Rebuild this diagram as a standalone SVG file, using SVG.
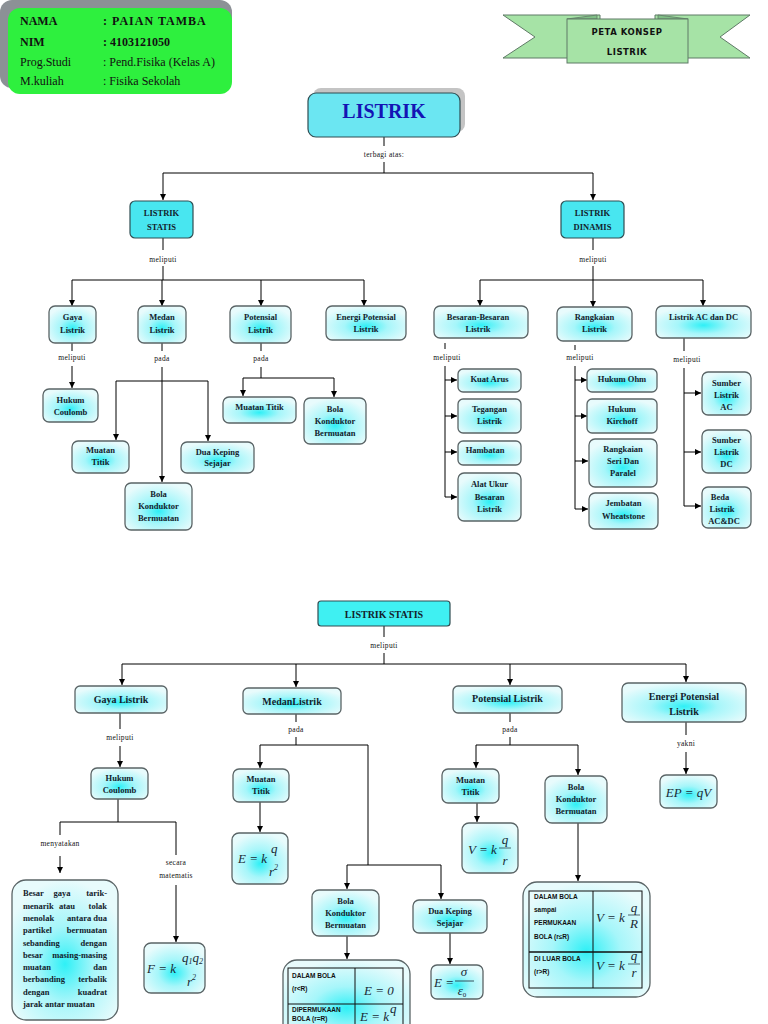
<svg xmlns="http://www.w3.org/2000/svg" width="768" height="1024" viewBox="0 0 768 1024">
<defs>
<radialGradient id="g" cx="50%" cy="60%" r="60%">
<stop offset="0" stop-color="#2ff0f6"/>
<stop offset="0.45" stop-color="#a6f6fa"/>
<stop offset="1" stop-color="#e8fbfc"/>
</radialGradient>
<marker id="a" markerWidth="6" markerHeight="6" refX="6" refY="3" orient="auto" markerUnits="userSpaceOnUse">
<path d="M0,0 L6,3 L0,6 z" fill="#000"/>
</marker>
<style>
.n{fill:url(#g);stroke:#5a6466;stroke-width:1.3}
.s{fill:#48e6f0;stroke:#2f4d52;stroke-width:1.2}
.t{font-family:"Liberation Serif",serif;font-weight:bold;font-size:8.5px;fill:#13222c;text-anchor:middle}
.T{font-family:"Liberation Serif",serif;font-weight:bold;font-size:10px;fill:#13222c;text-anchor:middle}
.l{font-family:"Liberation Serif",serif;font-size:7.5px;fill:#111;text-anchor:middle;letter-spacing:0.3px}
.c{stroke:#000;stroke-width:1;fill:none}
.ca{stroke:#000;stroke-width:1;fill:none;marker-end:url(#a)}
.h{font-family:"Liberation Serif",serif;font-size:12px;fill:#111}
.f{font-family:"Liberation Serif",serif;font-style:italic;font-size:13px;fill:#1a2a35}
.tb{font-family:"Liberation Sans",sans-serif;font-weight:bold;font-size:6.5px;fill:#111}
.d{font-family:"Liberation Serif",serif;font-weight:bold;font-size:8.5px;fill:#13222c}
</style>
</defs>
<rect width="768" height="1024" fill="#fff"/>

<g id="header">
<rect x="0" y="0" width="232" height="88" rx="12" fill="#8c9196"/>
<rect x="8" y="8" width="224" height="86" rx="12" fill="#2ef03e"/>
<text class="h" x="20" y="25" font-weight="bold">NAMA</text>
<text class="h" x="103" y="25" font-weight="bold" letter-spacing="1">: PAIAN TAMBA</text>
<text class="h" x="20" y="46" font-weight="bold">NIM</text>
<text class="h" x="103" y="46" font-weight="bold">:  4103121050</text>
<text class="h" x="20" y="66">Prog.Studi</text>
<text class="h" x="103" y="66">: Pend.Fisika (Kelas A)</text>
<text class="h" x="20" y="85">M.kuliah</text>
<text class="h" x="103" y="85">: Fisika Sekolah</text>
</g>

<g id="banner">
<polygon points="503,15 600,15 600,58 503,58 535,37" fill="#a6e3a6" stroke="#5f7a66" stroke-width="1"/>
<polygon points="655,15 750,15 720,37 750,58 655,58" fill="#a6e3a6" stroke="#5f7a66" stroke-width="1"/>
<polygon points="567,19 597,15 597,19" fill="#7fbf85" stroke="#5f7a66" stroke-width="0.8"/>
<polygon points="688,19 658,15 658,19" fill="#7fbf85" stroke="#5f7a66" stroke-width="0.8"/>
<rect x="567" y="19" width="121" height="44" fill="#a6e3a6" stroke="#5f7a66" stroke-width="1"/>
<text x="627" y="35" font-family="DejaVu Sans, sans-serif" font-weight="bold" font-size="8.5" text-anchor="middle" letter-spacing="0.5" fill="#111">PETA KONSEP</text>
<text x="627" y="55" font-family="DejaVu Sans, sans-serif" font-weight="bold" font-size="8.5" text-anchor="middle" letter-spacing="0.5" fill="#111">LISTRIK</text>
</g>

<g id="connectors">
<path class="c" d="M384,137 V146 M384,162 V173 M163,173 H593"/>
<path class="ca" d="M163,173 V200"/>
<path class="ca" d="M593,173 V200"/>
<text class="l" x="384" y="157">terbagi atas:</text>

<path class="c" d="M163,238 V250 M163,266 V280 M72,280 H364"/>
<text class="l" x="163" y="262">meliputi</text>
<path class="ca" d="M72,280 V306"/>
<path class="ca" d="M162,280 V306"/>
<path class="ca" d="M261,280 V306"/>
<path class="ca" d="M364,280 V306"/>

<path class="c" d="M593,238 V250 M593,266 V280 M480,280 H703"/>
<text class="l" x="593" y="262">meliputi</text>
<path class="ca" d="M480,280 V306"/>
<path class="ca" d="M593,280 V307"/>
<path class="ca" d="M703,280 V306"/>

<path class="c" d="M72,343 V351"/>
<text class="l" x="72" y="360">meliputi</text>
<path class="ca" d="M72,366 V388"/>

<path class="c" d="M162,343 V351 M116,381 H208"/>
<text class="l" x="162" y="361">pada</text>
<path class="ca" d="M162,367 V482"/>
<path class="ca" d="M116,381 V440"/>
<path class="ca" d="M208,381 V441"/>

<path class="c" d="M261,343 V351 M261,367 V378 M243,378 H334"/>
<text class="l" x="261" y="361">pada</text>
<path class="ca" d="M243,378 V396"/>
<path class="ca" d="M334,378 V397"/>

<path class="c" d="M445,343 V349 M445,366 V497"/>
<text class="l" x="447" y="360">meliputi</text>
<path class="ca" d="M445,380 H457"/>
<path class="ca" d="M445,416 H457"/>
<path class="ca" d="M445,452 H457"/>
<path class="ca" d="M445,497 H457"/>

<path class="c" d="M575,345 V350 M575,366 V509"/>
<text class="l" x="580" y="360">meliputi</text>
<path class="ca" d="M575,380 H587"/>
<path class="ca" d="M575,416 H587"/>
<path class="ca" d="M575,461 H588"/>
<path class="ca" d="M575,509 H588"/>

<path class="c" d="M684,338 V351 M684,368 V506"/>
<text class="l" x="687" y="362">meliputi</text>
<path class="ca" d="M684,393 H701"/>
<path class="ca" d="M684,452 H701"/>
<path class="ca" d="M684,506 H701"/>

<path class="c" d="M384,626 V637 M384,653 V664 M122,664 H686"/>
<text class="l" x="384" y="648">meliputi</text>
<path class="ca" d="M122,664 V685"/>
<path class="ca" d="M296,664 V687"/>
<path class="ca" d="M510,664 V685"/>
<path class="ca" d="M686,664 V682"/>

<path class="c" d="M120,713 V729"/>
<text class="l" x="120" y="740">meliputi</text>
<path class="ca" d="M120,746 V767"/>

<path class="c" d="M296,714 V722 M296,737 V745 M260,745 H368 M368,745 V865 M347,865 H441"/>
<text class="l" x="296" y="732">pada</text>
<path class="ca" d="M260,745 V768"/>
<path class="ca" d="M347,865 V889"/>
<path class="ca" d="M441,865 V899"/>
<path class="ca" d="M260,802 V832"/>
<path class="ca" d="M347,936 V959"/>
<path class="ca" d="M450,933 V964"/>

<path class="c" d="M510,713 V722 M510,737 V745 M476,745 H578"/>
<text class="l" x="510" y="732">pada</text>
<path class="ca" d="M476,745 V768"/>
<path class="ca" d="M578,745 V775"/>
<path class="ca" d="M477,803 V822"/>
<path class="ca" d="M578,823 V881"/>

<path class="c" d="M686,722 V735"/>
<text class="l" x="686" y="746">yakni</text>
<path class="ca" d="M686,752 V774"/>

<path class="c" d="M118,798 V822 M60,822 H176 M60,822 V835 M176,822 V855"/>
<text class="l" x="60" y="846">menyatakan</text>
<path class="ca" d="M60,856 V873"/>
<text class="l" x="176" y="865">secara</text>
<text class="l" x="176" y="878">matematis</text>
<path class="ca" d="M176,885 V942"/>
</g>

<g id="n-listrik">
<rect x="313" y="88" width="152" height="44" rx="8" fill="#c4c4c4"/>
<rect x="308" y="93" width="152" height="44" rx="8" fill="#6be6f2" stroke="#2f4d52" stroke-width="1.2"/>
<text x="384" y="118" font-family="Liberation Serif, serif" font-weight="bold" font-size="20" fill="#1414b4" text-anchor="middle">LISTRIK</text>
</g>

<g id="n-statis"><rect class="s" x="130" y="201" width="63" height="37" rx="5"/><text class="t" x="161.5" y="216">LISTRIK</text><text class="t" x="161.5" y="230">STATIS</text></g>
<g id="n-dinamis"><rect class="s" x="561" y="201" width="63" height="37" rx="5"/><text class="t" x="592.5" y="216">LISTRIK</text><text class="t" x="592.5" y="230">DINAMIS</text></g>

<g id="n-gaya"><rect class="n" x="49" y="306" width="47" height="37" rx="6"/><text class="t" x="72.5" y="320">Gaya</text><text class="t" x="72.5" y="333">Listrik</text></g>
<g id="n-medan"><rect class="n" x="138" y="306" width="48" height="37" rx="6"/><text class="t" x="162" y="320">Medan</text><text class="t" x="162" y="333">Listrik</text></g>
<g id="n-potensial"><rect class="n" x="230" y="306" width="61" height="37" rx="6"/><text class="t" x="260.5" y="320">Potensial</text><text class="t" x="260.5" y="333">Listrik</text></g>
<g id="n-energi"><rect class="n" x="326" y="306" width="80" height="34" rx="6"/><text class="t" x="366" y="320">Energi Potensial</text><text class="t" x="366" y="332">Listrik</text></g>

<g id="n-hukum1"><rect class="n" x="43" y="389" width="55" height="33" rx="6"/><text class="t" x="70.5" y="403">Hukum</text><text class="t" x="70.5" y="415">Coulomb</text></g>
<g id="n-muatan1"><rect class="n" x="72" y="441" width="57" height="32" rx="6"/><text class="t" x="100.5" y="453">Muatan</text><text class="t" x="100.5" y="465">Titik</text></g>
<g id="n-dua1"><rect class="n" x="181" y="442" width="73" height="31" rx="6"/><text class="t" x="217.5" y="455">Dua Keping</text><text class="t" x="217.5" y="466">Sejajar</text></g>
<g id="n-bola1"><rect class="n" x="125" y="483" width="67" height="47" rx="6"/><text class="t" x="158.5" y="497">Bola</text><text class="t" x="158.5" y="509">Konduktor</text><text class="t" x="158.5" y="521">Bermuatan</text></g>
<g id="n-muatan2"><rect class="n" x="223" y="397" width="73" height="26" rx="6"/><text class="t" x="259.5" y="410">Muatan Titik</text></g>
<g id="n-bola2"><rect class="n" x="304" y="398" width="62" height="46" rx="6"/><text class="t" x="335" y="412">Bola</text><text class="t" x="335" y="424">Konduktor</text><text class="t" x="335" y="436">Bermuatan</text></g>

<g id="n-besaran"><rect class="n" x="434" y="306" width="94" height="32" rx="6"/><text class="t" x="478" y="320">Besaran-Besaran</text><text class="t" x="478" y="332">Listrik</text></g>
<g id="n-rangkaian"><rect class="n" x="557" y="307" width="75" height="34" rx="6"/><text class="t" x="594.5" y="320">Rangkaian</text><text class="t" x="594.5" y="332">Listrik</text></g>
<g id="n-acdc"><rect class="n" x="656" y="306" width="95" height="32" rx="6"/><text class="t" x="703.5" y="320">Listrik AC dan DC</text></g>

<g id="n-kuat"><rect class="n" x="458" y="369" width="63" height="23" rx="5"/><text class="t" x="489.5" y="382">Kuat Arus</text></g>
<g id="n-tegangan"><rect class="n" x="458" y="399" width="63" height="34" rx="5"/><text class="t" x="489.5" y="412">Tegangan</text><text class="t" x="489.5" y="424">Listrik</text></g>
<g id="n-hambatan"><rect class="n" x="458" y="441" width="63" height="24" rx="5"/><text class="t" x="485" y="453">Hambatan</text></g>
<g id="n-alat"><rect class="n" x="458" y="473" width="63" height="48" rx="6"/><text class="t" x="489.5" y="487">Alat Ukur</text><text class="t" x="489.5" y="500">Besaran</text><text class="t" x="489.5" y="512">Listrik</text></g>

<g id="n-ohm"><rect class="n" x="587" y="369" width="70" height="23" rx="5"/><text class="t" x="622" y="382">Hukum Ohm</text></g>
<g id="n-kirchoff"><rect class="n" x="587" y="399" width="70" height="34" rx="5"/><text class="t" x="622" y="412">Hukum</text><text class="t" x="622" y="424">Kirchoff</text></g>
<g id="n-seri"><rect class="n" x="589" y="439" width="68" height="48" rx="6"/><text class="t" x="623" y="452">Rangkaian</text><text class="t" x="623" y="464">Seri Dan</text><text class="t" x="623" y="476">Paralel</text></g>
<g id="n-jembatan"><rect class="n" x="589" y="493" width="69" height="36" rx="6"/><text class="t" x="623.5" y="506">Jembatan</text><text class="t" x="623.5" y="519">Wheatstone</text></g>

<g id="n-sac"><rect class="n" x="702" y="372" width="49" height="43" rx="6"/><text class="t" x="726.5" y="386">Sumber</text><text class="t" x="726.5" y="398">Listrik</text><text class="t" x="726.5" y="410">AC</text></g>
<g id="n-sdc"><rect class="n" x="702" y="430" width="49" height="43" rx="6"/><text class="t" x="726.5" y="443">Sumber</text><text class="t" x="726.5" y="455">Listrik</text><text class="t" x="726.5" y="467">DC</text></g>
<g id="n-beda"><rect class="n" x="702" y="487" width="49" height="41" rx="6"/><text class="t" x="720" y="500">Beda</text><text class="t" x="722" y="512">Listrik</text><text class="t" x="724" y="524">AC&amp;DC</text></g>

<g id="n-statis2"><rect x="318" y="601" width="132" height="25" rx="3" fill="#3ff0f2" stroke="#2f4d52" stroke-width="1.2"/><text class="T" x="384" y="618" font-size="13">LISTRIK STATIS</text></g>
<g id="n-gaya2"><rect class="n" x="75" y="686" width="92" height="27" rx="5"/><text class="T" x="121" y="703">Gaya Listrik</text></g>
<g id="n-medan2"><rect class="n" x="243" y="688" width="98" height="26" rx="5"/><text class="T" x="292" y="705">MedanListrik</text></g>
<g id="n-pot2"><rect class="n" x="453" y="686" width="109" height="27" rx="5"/><text class="T" x="507.5" y="702">Potensial Listrik</text></g>
<g id="n-energi2"><rect class="n" x="622" y="683" width="124" height="39" rx="6"/><text class="T" x="684" y="700">Energi Potensial</text><text class="T" x="684" y="715">Listrik</text></g>

<g id="n-hukum2"><rect class="n" x="91" y="768" width="57" height="31" rx="6"/><text class="t" x="119.5" y="781">Hukum</text><text class="t" x="119.5" y="793">Coulomb</text></g>
<g id="n-desc"><rect class="n" x="12" y="880" width="106" height="140" rx="14"/>
<text class="d" x="23" y="896">Besar</text><text class="d" x="62" y="896" text-anchor="middle">gaya</text><text class="d" x="107" y="896" text-anchor="end">tarik-</text>
<text class="d" x="23" y="909">menarik</text><text class="d" x="67" y="909" text-anchor="middle">atau</text><text class="d" x="107" y="909" text-anchor="end">tolak</text>
<text class="d" x="23" y="921">menolak</text><text class="d" x="107" y="921" text-anchor="end">antara dua</text>
<text class="d" x="23" y="933">partikel</text><text class="d" x="107" y="933" text-anchor="end">bermuatan</text>
<text class="d" x="23" y="946">sebanding</text><text class="d" x="107" y="946" text-anchor="end">dengan</text>
<text class="d" x="23" y="958">besar</text><text class="d" x="107" y="958" text-anchor="end">masing-masing</text>
<text class="d" x="23" y="970">muatan</text><text class="d" x="107" y="970" text-anchor="end">dan</text>
<text class="d" x="23" y="982">berbanding</text><text class="d" x="107" y="982" text-anchor="end">terbalik</text>
<text class="d" x="23" y="995">dengan</text><text class="d" x="107" y="995" text-anchor="end">kuadrat</text>
<text class="d" x="23" y="1007">jarak antar muatan</text>
</g>
<g id="n-f"><rect class="n" x="144" y="943" width="61" height="50" rx="7"/>
<text class="f" x="147" y="973">F = k</text>
<text class="f" x="182" y="962">q<tspan font-size="8" dy="2">1</tspan><tspan dy="-2">q</tspan><tspan font-size="8" dy="2">2</tspan></text>
<text class="f" x="187" y="986">r<tspan font-size="8" dy="-6">2</tspan></text>
</g>

<g id="n-muatan3"><rect class="n" x="233" y="769" width="56" height="33" rx="6"/><text class="t" x="261" y="782">Muatan</text><text class="t" x="261" y="794">Titik</text></g>
<g id="n-e1"><rect class="n" x="232" y="833" width="56" height="51" rx="7"/>
<text class="f" x="238" y="863">E = k</text>
<text class="f" x="271" y="853">q</text>
<text class="f" x="269" y="876">r<tspan font-size="8" dy="-6">2</tspan></text>
</g>
<g id="n-bola3"><rect class="n" x="312" y="890" width="67" height="46" rx="7"/><text class="t" x="345.5" y="904">Bola</text><text class="t" x="345.5" y="916">Konduktor</text><text class="t" x="345.5" y="928">Bermuatan</text></g>
<g id="n-dua2"><rect class="n" x="413" y="900" width="74" height="33" rx="6"/><text class="t" x="450" y="914">Dua Keping</text><text class="t" x="450" y="926">Sejajar</text></g>
<g id="n-e2"><rect class="n" x="431" y="965" width="52" height="34" rx="6"/>
<text class="f" x="434" y="987">E =</text>
<text class="f" x="464" y="976" text-anchor="middle">σ</text>
<line x1="455" y1="981" x2="474" y2="981" stroke="#1a2a35" stroke-width="0.8"/>
<text class="f" x="462" y="995" text-anchor="middle">ε<tspan font-size="7" dy="2" font-style="normal">0</tspan></text>
</g>
<g id="n-tabel-e"><rect class="n" x="283" y="960" width="127" height="80" rx="14"/>
<rect x="288" y="968" width="115" height="70" fill="none" stroke="#111" stroke-width="1"/>
<line x1="355" y1="968" x2="355" y2="1038" stroke="#111" stroke-width="1"/>
<line x1="288" y1="1004" x2="403" y2="1004" stroke="#111" stroke-width="1"/>
<text class="tb" x="292" y="978">DALAM BOLA</text>
<text class="tb" x="292" y="991" font-size="5">(r&lt;R)</text>
<text class="f" x="364" y="995" font-size="12">E = 0</text>
<text class="tb" x="292" y="1012">DIPERMUKAAN</text>
<text class="tb" x="292" y="1021" font-size="6">BOLA (r=R)</text>
<text class="f" x="360" y="1021" font-size="11">E = k</text>
<text class="f" x="390" y="1013" font-size="10">q</text>
</g>

<g id="n-muatan4"><rect class="n" x="442" y="769" width="57" height="34" rx="6"/><text class="t" x="470.5" y="783">Muatan</text><text class="t" x="470.5" y="795">Titik</text></g>
<g id="n-v"><rect class="n" x="462" y="823" width="56" height="50" rx="7"/>
<text class="f" x="468" y="854">V = k</text>
<text class="f" x="505" y="844" text-anchor="middle">q</text>
<line x1="499" y1="848" x2="511" y2="848" stroke="#1a2a35" stroke-width="0.7"/>
<text class="f" x="505" y="865" text-anchor="middle">r</text>
</g>
<g id="n-bola4"><rect class="n" x="545" y="776" width="62" height="47" rx="7"/><text class="t" x="576" y="790">Bola</text><text class="t" x="576" y="802">Konduktor</text><text class="t" x="576" y="814">Bermuatan</text></g>
<g id="n-tabel-v"><rect class="n" x="523" y="882" width="127" height="115" rx="14"/>
<rect x="529" y="891" width="113" height="97" fill="none" stroke="#111" stroke-width="1"/>
<line x1="593" y1="891" x2="593" y2="988" stroke="#111" stroke-width="1"/>
<line x1="529" y1="952" x2="642" y2="952" stroke="#111" stroke-width="1.5"/>
<text class="tb" x="534" y="899">DALAM BOLA</text>
<text class="tb" x="534" y="912" font-size="5.5">sampai</text>
<text class="tb" x="534" y="925">PERMUKAAN</text>
<text class="tb" x="534" y="939">BOLA  (r≤R)</text>
<text class="f" x="596" y="922" font-size="12">V = k</text>
<text class="f" x="634" y="912" font-size="12" text-anchor="middle">q</text>
<line x1="628" y1="915" x2="640" y2="915" stroke="#1a2a35" stroke-width="0.7"/>
<text class="f" x="634" y="928" font-size="12" text-anchor="middle">R</text>
<text class="tb" x="534" y="961">DI LUAR BOLA</text>
<text class="tb" x="534" y="974" font-size="5.5">(r&gt;R)</text>
<text class="f" x="596" y="970" font-size="12">V = k</text>
<text class="f" x="634" y="960" font-size="12" text-anchor="middle">q</text>
<line x1="628" y1="964" x2="640" y2="964" stroke="#1a2a35" stroke-width="0.7"/>
<text class="f" x="634" y="977" font-size="12" text-anchor="middle">r</text>
</g>
<g id="n-ep"><rect class="n" x="660" y="775" width="57" height="33" rx="6"/><text class="f" x="688.5" y="797" text-anchor="middle">EP = qV</text></g>
</svg>
